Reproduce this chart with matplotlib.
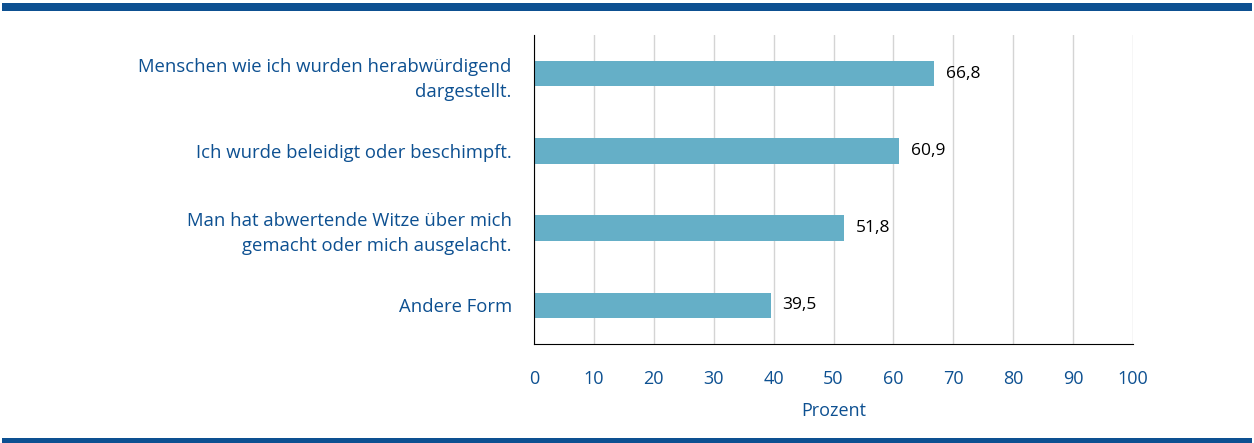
import matplotlib.pyplot as plt
from matplotlib.patches import Rectangle

# Forms of discrimination experienced, share in percent
categories = ['Menschen wie ich wurden herabwürdigend\ndargestellt.',
              'Ich wurde beleidigt oder beschimpft.',
              'Man hat abwertende Witze über mich\ngemacht oder mich ausgelacht.',
              'Andere Form']
values = [66.8, 60.9, 51.8, 39.5]
value_labels = ['66,8', '60,9', '51,8', '39,5']
xticks = [0, 10, 20, 30, 40, 50, 60, 70, 80, 90, 100]

blue = '#0d5091'
barColor = '#65afc7'

plt.rcParams['font.family'] = ['Open Sans', 'DejaVu Sans']

fig = plt.figure(figsize=(12.54, 4.43), dpi=100)
ax = fig.add_axes([534/1254, 1 - 344/443, (1133-534)/1254, (344-35)/443])

ypos = list(range(len(categories)))
ax.barh(ypos, values, height=0.33, color=barColor, zorder=3)
for y, v, lab in zip(ypos, values, value_labels):
    ax.text(v + 2.0, y, lab, va='center', ha='left', fontsize=12.5, color='black')

ax.set_xlim(0, 100)
ax.set_ylim(3.5, -0.5)
ax.set_xticks(xticks)
ax.set_yticks(ypos)
ax.set_yticklabels(categories, fontsize=13.3, color=blue, linespacing=1.5)
ax.tick_params(axis='x', colors=blue, labelsize=13, length=0, pad=19)
ax.tick_params(axis='y', length=0, pad=16)
for t in ax.get_yticklabels():
    t.set_horizontalalignment('right')
ax.xaxis.grid(True, color='#d4d4d4', linewidth=1, zorder=0)
ax.set_xlabel('Prozent', color=blue, fontsize=13, labelpad=10)
for s in ['top', 'right']:
    ax.spines[s].set_visible(False)
ax.spines['left'].set_color('black')
ax.spines['bottom'].set_color('black')
ax.spines['left'].set_zorder(4)
ax.spines['bottom'].set_zorder(4)

# blue bands at top and bottom
fig.add_artist(Rectangle((2/1254, 1 - 11/443), 1250/1254, 8/443, transform=fig.transFigure,
                         color='#0d5091', lw=0))
fig.add_artist(Rectangle((2/1254, 0), 1250/1254, 5/443, transform=fig.transFigure,
                         color='#0d5091', lw=0))

fig.savefig('out.png', dpi=100)
